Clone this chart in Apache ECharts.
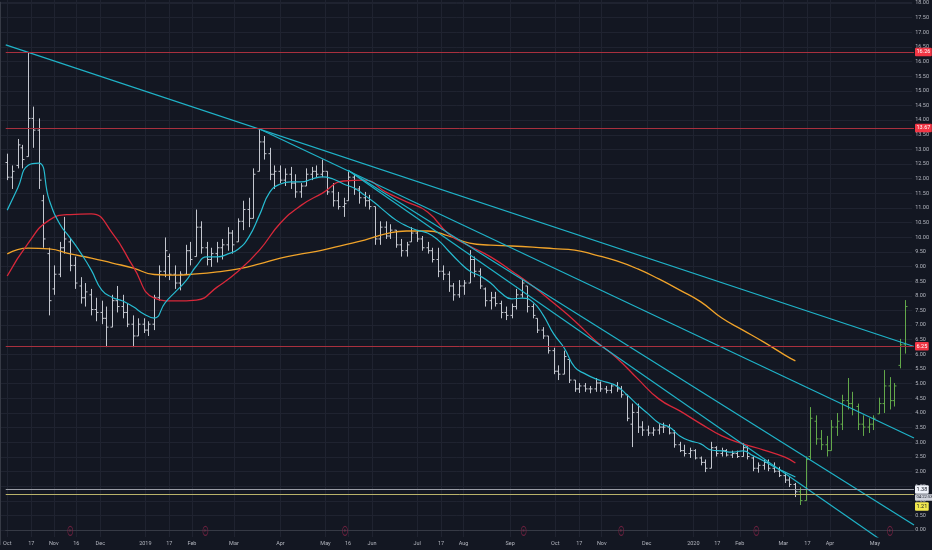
<!DOCTYPE html>
<html><head><meta charset="utf-8">
<script src="https://cdn.jsdelivr.net/npm/echarts@6/dist/echarts.min.js"></script>
<style>html,body{margin:0;padding:0;background:#131722;}#c{width:932px;height:550px;}</style>
</head><body><div id="c"></div>
<script>
// ---------- data ----------
const axisStart = '2018-09-30', axisEnd = '2020-05-27';
const tickDates = ['2018-10-01','2018-10-17','2018-11-01','2018-11-16','2018-12-02','2019-01-01','2019-01-17','2019-02-01','2019-03-01','2019-04-01','2019-05-01','2019-05-16','2019-06-01','2019-07-01','2019-07-17','2019-08-01','2019-09-01','2019-10-01','2019-10-17','2019-11-01','2019-12-01','2020-01-01','2020-01-17','2020-02-01','2020-03-01','2020-03-17','2020-04-01','2020-05-01'];
const tickLabels = ['Oct','17','Nov','16','Dec','2019','17','Feb','Mar','Apr','May','16','Jun','Jul','17','Aug','Sep','Oct','17','Nov','Dec','2020','17','Feb','Mar','17','Apr','May'];
const barWeekStart = '2018-10-01'; // two bars per week (Mon, Thu)
const opens = [12.5,12.0,12.4,13.0,12.7,14.0,13.6,11.2,9.4,8.2,8.7,9.6,9.8,9.0,8.3,7.9,8.0,7.5,7.4,7.2,6.9,7.8,7.6,7.4,7.0,6.6,7.0,6.8,7.0,7.9,8.8,9.3,8.7,8.4,8.7,9.5,9.3,10.3,9.6,9.2,9.4,9.6,9.7,10.1,9.8,10.5,10.9,10.6,12.2,13.2,12.8,12.1,12.2,11.9,12.1,11.8,11.5,11.7,12.1,12.2,12.1,12.2,11.5,11.2,11.0,11.2,12.0,11.6,11.3,11.2,11.0,9.9,10.3,10.0,10.2,9.7,9.5,9.8,10.1,9.9,9.6,9.5,9.2,8.8,8.7,8.3,8.0,8.3,8.4,9.2,8.8,8.2,7.8,7.9,7.7,7.4,7.3,7.6,8.0,8.3,7.6,7.2,6.8,6.6,6.1,5.4,5.3,5.8,5.1,4.8,4.9,4.8,4.8,5.0,4.8,4.75,4.9,4.8,4.6,3.6,4.0,3.5,3.4,3.3,3.4,3.5,3.5,3.3,2.9,2.7,2.6,2.7,2.45,2.3,2.1,2.8,2.6,2.7,2.55,2.6,2.5,2.8,2.45,2.1,2.2,2.3,2.1,2.0,1.85,1.7,1.55,1.3,1.0,2.5,3.7,3.1,2.9,2.7,3.5,3.6,4.4,4.3,4.2,3.6,3.5,3.6,3.95,4.3,4.9,4.4,5.6,6.3];
const highs = [12.8,12.4,13.3,13.1,16.25,14.4,14.0,11.4,9.6,9.0,9.8,10.65,9.9,9.3,8.6,8.4,8.2,7.9,7.8,7.6,8.0,8.3,8.0,7.7,7.3,7.2,7.2,7.1,8.0,9.0,9.95,9.4,9.0,8.8,9.7,9.8,10.9,10.5,9.8,9.6,9.8,9.9,10.3,10.2,10.6,11.2,11.3,12.3,13.67,13.4,13.0,12.4,12.4,12.3,12.35,12.1,11.8,12.3,12.35,12.4,12.6,12.2,11.8,11.5,11.3,12.2,12.1,11.7,11.5,11.4,11.0,10.5,10.5,10.4,10.2,9.9,9.8,10.3,10.2,10.0,9.8,9.6,9.6,9.0,8.8,8.4,8.5,8.5,9.52,9.3,8.9,8.25,8.1,8.1,7.8,7.6,7.7,8.2,8.57,8.3,7.7,7.2,6.9,6.6,6.2,5.6,6.1,5.8,5.1,5.0,5.0,4.9,5.17,5.05,4.9,4.95,5.03,4.9,4.6,4.3,4.3,3.7,3.55,3.5,3.6,3.65,3.6,3.4,3.0,2.9,2.8,2.75,2.5,2.4,3.0,2.85,2.8,2.75,2.7,2.7,2.96,2.85,2.5,2.3,2.4,2.4,2.3,2.15,1.95,1.8,1.6,1.45,2.5,4.18,3.9,3.4,3.2,3.74,3.98,4.6,5.17,4.7,4.3,3.9,3.8,3.9,4.5,5.44,5.2,5.0,6.5,7.82];
const lows = [11.9,11.6,12.3,12.3,12.7,13.0,11.6,9.6,7.3,8.0,8.6,9.4,8.8,8.2,7.7,7.6,7.3,7.1,7.0,6.22,6.9,7.4,7.2,6.9,6.22,6.6,6.7,6.6,6.8,7.8,8.6,8.5,8.2,8.15,8.7,9.0,9.3,9.4,9.0,8.95,9.1,9.2,9.5,9.4,9.8,10.2,10.3,10.6,12.2,12.6,11.9,11.6,11.8,11.7,11.6,11.3,11.3,11.7,11.9,12.0,12.0,11.4,11.0,10.9,10.65,11.2,11.4,11.1,11.0,10.9,9.7,9.7,9.9,9.9,9.6,9.3,9.3,9.8,9.8,9.5,9.4,9.1,8.6,8.5,8.1,7.8,7.9,8.0,8.4,8.6,8.2,7.6,7.5,7.6,7.2,7.14,7.2,7.5,7.9,7.4,7.2,6.7,6.5,6.0,5.3,5.1,5.3,5.0,4.7,4.66,4.7,4.65,4.7,4.7,4.65,4.65,4.7,4.5,3.7,2.82,3.3,3.2,3.2,3.2,3.25,3.3,3.25,2.8,2.65,2.5,2.45,2.4,2.2,1.97,2.1,2.5,2.5,2.5,2.45,2.45,2.5,2.4,2.0,1.95,2.05,2.0,1.95,1.8,1.6,1.46,1.12,0.85,1.0,2.4,2.9,2.72,2.5,2.7,3.2,3.4,4.1,3.9,3.4,3.2,3.3,3.4,3.95,3.98,4.1,4.2,5.5,6.0];
const closes = [12.0,12.2,13.1,12.6,14.0,13.6,11.9,9.9,7.8,8.7,9.6,9.9,9.0,8.4,7.9,8.1,7.5,7.4,7.2,6.9,7.8,7.6,7.4,7.0,6.6,7.0,6.8,7.0,7.9,8.8,9.5,8.7,8.4,8.7,9.5,9.2,10.3,9.6,9.2,9.4,9.6,9.7,10.1,9.7,10.5,10.9,10.6,12.1,13.2,12.8,12.1,12.2,11.9,12.1,11.8,11.5,11.7,12.1,12.2,12.1,12.2,11.5,11.2,11.0,11.1,12.0,11.6,11.3,11.2,11.0,9.9,10.3,10.0,10.2,9.7,9.5,9.7,10.1,9.9,9.6,9.5,9.2,8.8,8.7,8.3,8.0,8.3,8.4,9.2,8.8,8.3,7.8,7.9,7.7,7.4,7.3,7.6,8.0,8.4,7.6,7.3,6.8,6.6,6.1,5.4,5.3,5.9,5.1,4.8,4.9,4.8,4.8,5.0,4.8,4.75,4.9,4.8,4.6,3.8,4.0,3.5,3.4,3.3,3.4,3.5,3.5,3.3,2.9,2.7,2.6,2.7,2.45,2.3,2.1,2.8,2.6,2.7,2.55,2.6,2.5,2.8,2.5,2.1,2.2,2.3,2.1,2.0,1.85,1.7,1.55,1.3,1.0,2.4,3.8,3.1,2.9,2.7,3.5,3.7,4.4,4.3,4.1,3.6,3.5,3.6,3.8,4.3,4.9,4.4,4.9,6.3,7.6];
const rallyStart = '2020-03-12';
// moving averages, one reading per week (week index from barWeekStart)
const ma20 = [10.88,11.63,12.41,12.48,11.22,10.41,9.93,9.42,8.84,8.16,7.91,7.79,7.59,7.35,7.21,7.72,8.10,8.47,8.98,9.29,9.29,9.39,9.56,9.97,10.71,11.50,11.77,11.84,11.84,11.94,12.01,11.94,11.77,11.63,11.39,11.12,10.82,10.54,10.34,10.20,10.10,9.86,9.49,9.12,8.81,8.64,8.40,8.06,7.86,7.89,7.76,7.31,6.67,6.19,5.54,5.31,5.14,5.03,4.90,4.59,4.25,3.95,3.64,3.50,3.20,3.03,2.93,2.72,2.69,2.65,2.69,2.52,2.35,2.14,1.97,1.80];
const slowWeeks = [0,2,4,6,8,10,12,14,16,18,20,22,24,26,28,30,32,34,36,38,40,42,44,46,48,50,52,54,56,58,60,62,64,66,68,70,72,74,75];
const ma50 = [8.64,9.76,10.54,10.73,10.75,10.10,8.95,7.89,7.79,7.82,8.27,8.81,9.52,10.44,11.05,11.46,11.87,11.90,11.50,11.16,10.82,10.07,9.66,9.29,8.81,8.30,7.72,7.11,6.43,5.85,5.14,4.46,4.05,3.61,3.20,2.93,2.72,2.48,2.28];
const ma200 = [9.39,9.59,9.56,9.39,9.25,9.08,8.91,8.69,8.67,8.71,8.78,8.88,9.05,9.25,9.39,9.52,9.69,9.86,10.07,10.17,10.17,10.00,9.76,9.69,9.66,9.62,9.57,9.52,9.35,9.15,8.88,8.54,8.16,7.76,7.21,6.80,6.39,5.95,5.75];
const trendLines = [
  [['2018-09-30',16.50],['2020-05-27',6.24]],
  [['2019-03-18',13.64],['2020-05-27',3.13]],
  [['2019-05-16',12.24],['2020-05-27',0.17]],
  [['2019-05-16',12.24],['2020-05-27',-1.12]]
];
const redLevels = [16.26, 13.67, 6.25];
const lastPrice = 1.38, countdown = '04:22:53', alertLevel = 1.21;
const earningsDates = ['2018-11-12','2019-02-10','2019-05-14','2019-09-10','2019-11-14','2020-02-12','2020-05-11'];

// ---------- helpers ----------
function addDays(s, n){ const d = new Date(s + 'T00:00:00Z'); d.setUTCDate(d.getUTCDate() + n); return d.toISOString().slice(0,10); }
const days = []; for (let d = axisStart; d <= axisEnd; d = addDays(d, 1)) days.push(d);
const barDates = opens.map((_, i) => addDays(barWeekStart, 7 * Math.floor(i / 2) + 3 * (i % 2)));
const weekDate = k => addDays(barWeekStart, 7 * k);
const tickMap = {}; tickDates.forEach((d, i) => tickMap[d] = tickLabels[i]);
const isTick = (i, v) => tickMap[v] !== undefined;

const PX = 29.4;            // pixels per price unit
const ZERO_Y = 530;         // pixel row of price 0
const PLOT_H = 537;
const FONT = 'Roboto, "DejaVu Sans", sans-serif';
const gridColor = '#1f2330';
const splitColors = ['rgba(0,0,0,0)'].concat(new Array(40).fill(gridColor));
const isHalf = v => Math.abs(v * 2 - Math.round(v * 2)) < 1e-6;

const ohlc = barDates.map((d, i) => [d, opens[i], highs[i], lows[i], closes[i]]);

const chart = echarts.init(document.getElementById('c'));
const lvlLabel = (bg, fg, fs) => ({show: true, position: 'end', distance: 1, backgroundColor: bg, color: fg,
  fontSize: fs || 5.5, fontFamily: FONT, padding: [1.5, 1.5, 1, 1.5], borderRadius: 1});

chart.setOption({
  backgroundColor: '#131722',
  animation: false,
  grid: [
    {left: 0, right: 18, top: 0, height: PLOT_H},
    {left: 0, right: 18, top: 0, height: ZERO_Y + 0.5 * PX}
  ],
  xAxis: [
    {type: 'category', gridIndex: 0, data: days, boundaryGap: false,
     axisLine: {lineStyle: {color: '#363a45'}}, axisTick: {show: false},
     axisLabel: {interval: isTick, formatter: v => tickMap[v] || '', color: '#b2b5be', fontSize: 5.5, fontFamily: FONT, margin: 4},
     splitLine: {show: true, interval: isTick, lineStyle: {color: gridColor, width: 1}}},
    {type: 'value', gridIndex: 1, min: 0, max: 1, show: false}
  ],
  yAxis: [
    {type: 'value', gridIndex: 0, position: 'right', min: (ZERO_Y - PLOT_H) / PX, max: ZERO_Y / PX, show: false, splitLine: {show: false}},
    {type: 'value', gridIndex: 1, position: 'right', min: -0.5, max: ZERO_Y / PX, interval: 0.5,
     axisLine: {show: true, lineStyle: {color: '#363a45'}}, axisTick: {show: false},
     axisLabel: {color: '#b2b5be', fontSize: 5.5, fontFamily: FONT, margin: 3, showMaxLabel: true,
       formatter: v => (v < 0 || !isHalf(v)) ? '' : v.toFixed(2)},
     splitLine: {show: true, lineStyle: {color: splitColors, width: 1}}}
  ],
  series: [
    {type: 'line', name: 'MA200', data: slowWeeks.map((k, i) => [weekDate(k), ma200[i]]), smooth: true, symbol: 'none',
     lineStyle: {color: '#f0a32a', width: 1.3}, z: 3},
    {type: 'line', name: 'MA50', data: slowWeeks.map((k, i) => [weekDate(k), ma50[i]]), smooth: true, symbol: 'none',
     lineStyle: {color: '#d8283a', width: 1.3}, z: 3},
    {type: 'line', name: 'MA20', data: ma20.map((v, k) => [weekDate(k), v]), smooth: true, symbol: 'none',
     lineStyle: {color: '#27bcd1', width: 1.2}, z: 3},
    ...trendLines.map((t, i) => ({type: 'line', name: 'trend' + i, data: t, symbol: 'none', clip: true,
      lineStyle: {color: '#1fb3c8', width: 1.2}, z: 4})),
    {type: 'custom', name: 'bars', data: ohlc, dimensions: ['date','open','high','low','close'],
     encode: {x: 0, y: [1, 2, 3, 4]}, z: 2,
     renderItem: function(params, api){
       const x = api.value(0);
       const pO = api.coord([x, api.value(1)]);
       const pH = api.coord([x, api.value(2)]);
       const pL = api.coord([x, api.value(3)]);
       const pC = api.coord([x, api.value(4)]);
       const col = barDates[params.dataIndex] >= rallyStart ? '#62a84a' : '#c4c7cf';
       const xx = Math.round(pH[0]) + 0.5, t = 2;
       return {type: 'group', children: [
         {type: 'line', shape: {x1: xx, y1: pH[1], x2: xx, y2: pL[1]}, style: {stroke: col, lineWidth: 1}},
         {type: 'line', shape: {x1: xx - t, y1: pO[1], x2: xx, y2: pO[1]}, style: {stroke: col, lineWidth: 1}},
         {type: 'line', shape: {x1: xx, y1: pC[1], x2: xx + t, y2: pC[1]}, style: {stroke: col, lineWidth: 1}}
       ]};
     }},
    {type: 'line', name: 'levels', data: [], clip: false, symbol: 'none',
     markLine: {silent: true, symbol: ['none', 'none'], animation: false,
       data: [
         ...redLevels.map(v => ({yAxis: v, lineStyle: {color: '#a8303e', width: 1, type: 'solid'},
           label: Object.assign(lvlLabel('#f23645', '#ffffff'), {formatter: v.toFixed(2)})})),
         {yAxis: lastPrice, lineStyle: {color: '#9a9da6', width: 1, type: 'solid'},
          label: Object.assign(lvlLabel('#f0f3fa', '#131722'), {formatter: lastPrice.toFixed(2)})},
         {yAxis: lastPrice, lineStyle: {color: 'rgba(0,0,0,0)', width: 0},
          label: Object.assign(lvlLabel('#d1d4dc', '#131722', 4.2), {formatter: countdown, offset: [0, 8]})},
         {yAxis: alertLevel, lineStyle: {color: '#b9b26a', width: 1, type: 'solid'},
          label: Object.assign(lvlLabel('#f2e94e', '#131722'), {formatter: alertLevel.toFixed(2), offset: [0, 12]})}
       ]}},
    {type: 'scatter', name: 'earnings', data: earningsDates.map(d => [d, -0.03]), symbol: 'circle', symbolSize: [5, 9],
     itemStyle: {color: 'rgba(0,0,0,0)', borderColor: '#7e2345', borderWidth: 1},
     label: {show: true, position: 'inside', formatter: 'E', fontSize: 4, color: '#9c2b50', fontFamily: FONT}, z: 5}
  ]
});
</script></body></html>
